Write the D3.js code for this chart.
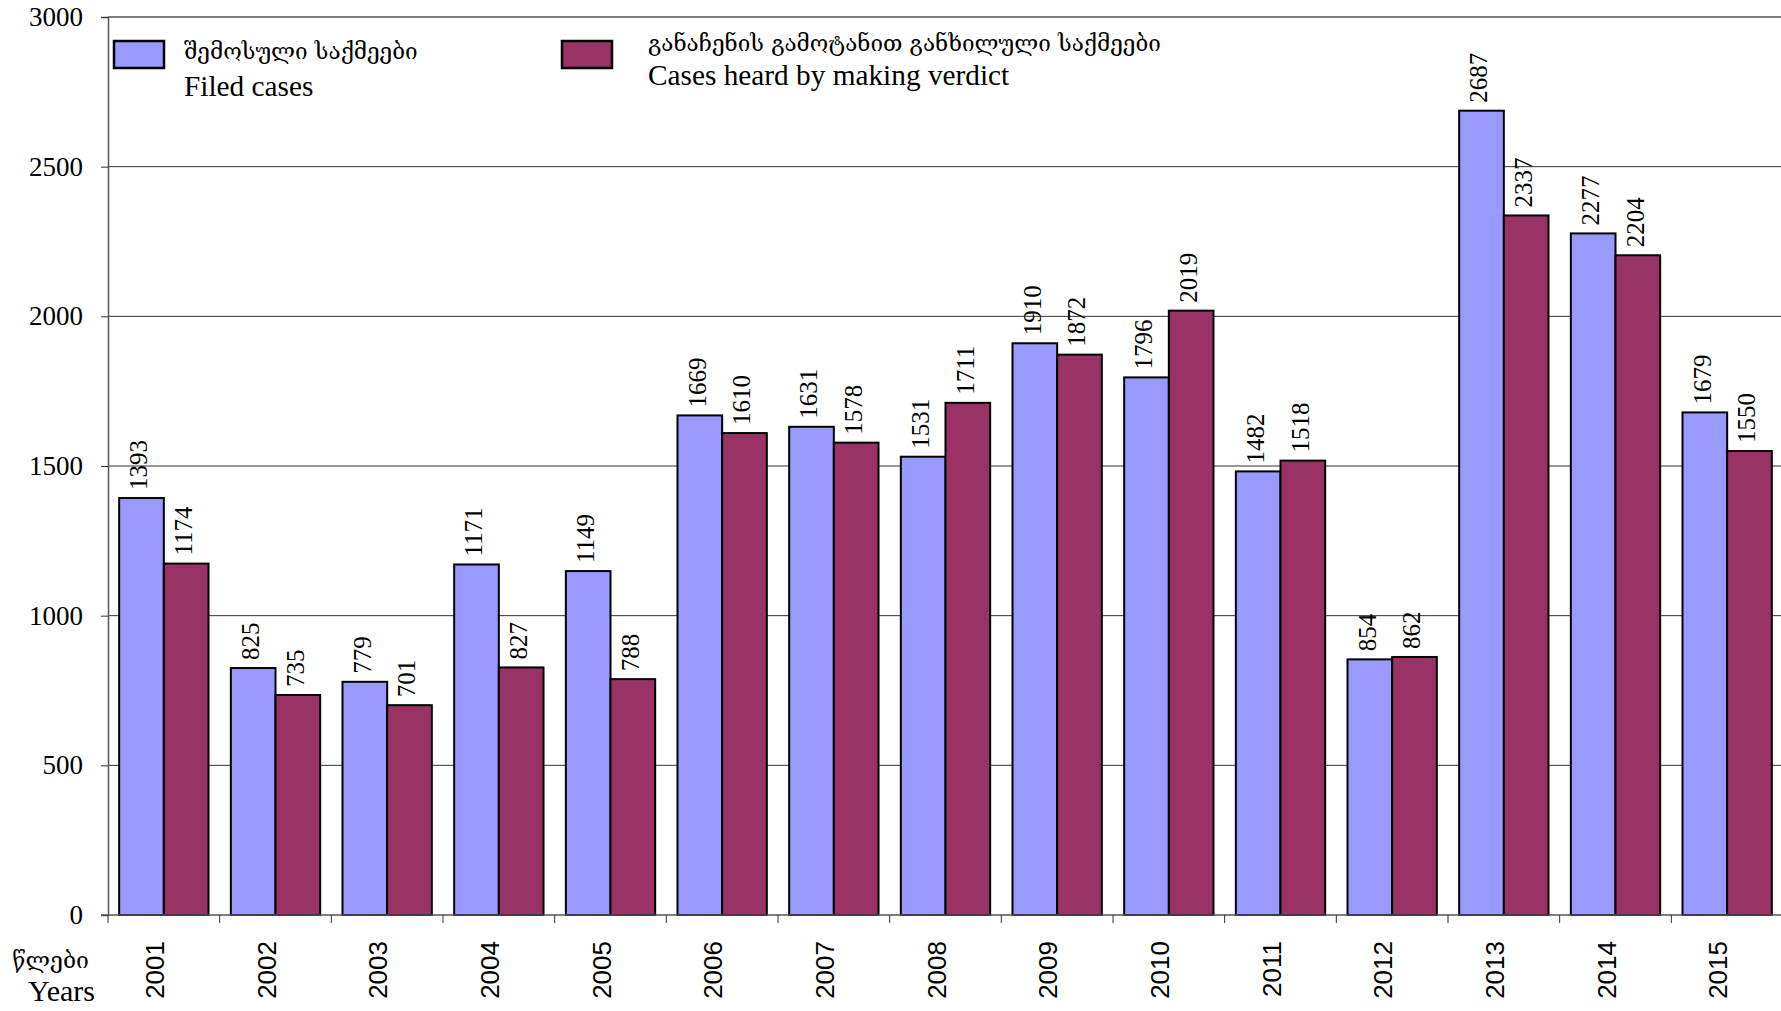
<!DOCTYPE html>
<html>
<head>
<meta charset="utf-8">
<script src="https://cdn.jsdelivr.net/npm/d3@7"></script>
<style>
  body { margin: 0; background: #fff; }
  svg { display: block; }
</style>
</head>
<body>
<svg id="svg" width="1781" height="1011"></svg>
<script>
// chart data
const years = ["2001", "2002", "2003", "2004", "2005", "2006", "2007", "2008",
               "2009", "2010", "2011", "2012", "2013", "2014", "2015"];
const filed = [1393, 825, 779, 1171, 1149, 1669, 1631, 1531, 1910, 1796, 1482, 854, 2687, 2277, 1679];
const heard = [1174, 735, 701, 827, 788, 1610, 1578, 1711, 1872, 2019, 1518, 862, 2337, 2204, 1550];
const yTicks = [0, 500, 1000, 1500, 2000, 2500, 3000];

const seriesNames = [
  { ka: "შემოსული საქმეები", en: "Filed cases" },
  { ka: "განაჩენის გამოტანით განხილული საქმეები", en: "Cases heard by making verdict" }
];
const colors = ["#9999ff", "#993366"];

const serif = "'Liberation Serif', 'Times New Roman', serif";
const geo = "'DejaVu Serif', 'DejaVu Sans', serif";

let svg = d3.select("svg");
let margin = { top: 17, left: 108, bottom: 96 };
let plotRight = 1783;
let height = 1011 - margin.bottom;

let x0 = d3.scaleBand().domain(years).range([margin.left, plotRight]);
let x1 = d3.scaleBand().domain([0, 1])
  .range([x0.bandwidth() * 0.1, x0.bandwidth() * 0.9]);
let y = d3.scaleLinear().domain([0, 3000]).range([height, margin.top]);

// gridlines
svg.append("g")
  .selectAll("line")
  .data(yTicks.filter(t => t > 0 && t < 3000))
  .enter().append("line")
    .attr("x1", margin.left).attr("x2", plotRight)
    .attr("y1", d => y(d)).attr("y2", d => y(d))
    .attr("stroke", "#333").attr("stroke-width", 1);

// top border of plot area
svg.append("line")
  .attr("x1", margin.left).attr("x2", plotRight)
  .attr("y1", y(3000)).attr("y2", y(3000))
  .attr("stroke", "#808080").attr("stroke-width", 2);

// bars
let rows = years.map((yr, i) => ({ year: yr, values: [filed[i], heard[i]] }));
let groups = svg.append("g")
  .selectAll("g")
  .data(rows)
  .enter().append("g")
    .attr("transform", d => "translate(" + x0(d.year) + ",0)");

groups.selectAll("rect")
  .data(d => d.values.map((v, s) => ({ v, s })))
  .enter().append("rect")
    .attr("x", d => x1(d.s))
    .attr("width", x1.bandwidth())
    .attr("y", d => y(d.v))
    .attr("height", d => y(0) - y(d.v))
    .attr("fill", d => colors[d.s])
    .attr("stroke", "#000")
    .attr("stroke-width", 2);

// value labels
groups.selectAll("text")
  .data(d => d.values.map((v, s) => ({ v, s })))
  .enter().append("text")
    .attr("transform", d => "translate(" + (x1(d.s) + x1.bandwidth() / 2 - 3) + "," + (y(d.v) - 8) + ") rotate(-90)")
    .attr("dy", "0.35em")
    .attr("font-family", serif)
    .attr("font-size", 25)
    .text(d => d.v);

// y axis
let yAxis = svg.append("g")
  .attr("transform", "translate(" + margin.left + ",0)")
  .call(d3.axisLeft(y).tickValues(yTicks).tickFormat(d3.format("d")).tickSize(7).tickPadding(18));
yAxis.select(".domain").attr("stroke", "#555").attr("stroke-width", 1.5);
yAxis.selectAll(".tick line").attr("stroke", "#333");
yAxis.selectAll("text")
  .attr("font-family", serif)
  .attr("font-size", 27)
  .attr("fill", "#000");

// x axis
let xAxis = svg.append("g")
  .attr("transform", "translate(0," + height + ")");
xAxis.append("line")
  .attr("x1", margin.left - 7).attr("x2", plotRight)
  .attr("stroke", "#555").attr("stroke-width", 1.5);
xAxis.selectAll(".tk")
  .data(years.concat(["end"]))
  .enter().append("line")
    .attr("x1", (d, i) => margin.left + i * x0.bandwidth())
    .attr("x2", (d, i) => margin.left + i * x0.bandwidth())
    .attr("y1", 0).attr("y2", 8)
    .attr("stroke", "#333");
xAxis.selectAll("text")
  .data(years)
  .enter().append("text")
    .attr("transform", d => "translate(" + (x0(d) + x0.bandwidth() / 2 - 9) + ",26) rotate(-90)")
    .attr("text-anchor", "end")
    .attr("dy", "0.35em")
    .attr("font-family", "'Liberation Sans', Arial, sans-serif")
    .attr("font-size", 26)
    .text(d => d);

// axis title
svg.append("text")
  .attr("x", 89).attr("y", 968)
  .attr("text-anchor", "end")
  .attr("font-family", geo)
  .attr("font-size", 23)
  .text("წლები");
svg.append("text")
  .attr("x", 95).attr("y", 1001)
  .attr("text-anchor", "end")
  .attr("font-family", serif)
  .attr("font-size", 30)
  .text("Years");

// legend
let legendPos = [
  { bx: 114, tx: 184, kaY: 59, enY: 96 },
  { bx: 562, tx: 648, kaY: 51, enY: 85 }
];
seriesNames.forEach((s, i) => {
  let p = legendPos[i];
  svg.append("rect")
    .attr("x", p.bx).attr("y", 41)
    .attr("width", 50).attr("height", 27)
    .attr("fill", colors[i])
    .attr("stroke", "#000").attr("stroke-width", 2.5);
  svg.append("text")
    .attr("x", p.tx).attr("y", p.kaY)
    .attr("font-family", geo)
    .attr("font-size", 22.5)
    .text(s.ka);
  svg.append("text")
    .attr("x", p.tx).attr("y", p.enY)
    .attr("font-family", serif)
    .attr("font-size", 29.3)
    .text(s.en);
});
</script>
</body>
</html>
